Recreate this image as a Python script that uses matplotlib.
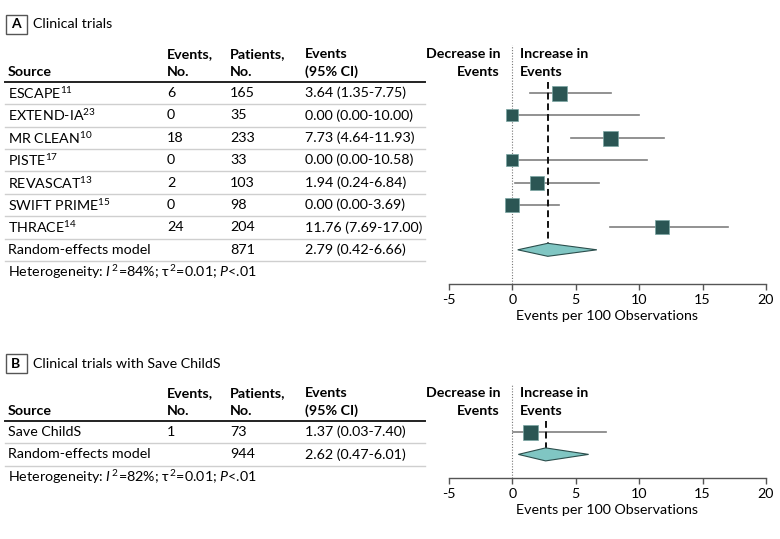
"""
Forest plot: events per 100 observations, clinical trials (A) and with Save ChildS (B)
"""

import matplotlib

matplotlib.use("Agg")
import matplotlib.pyplot as plt
from matplotlib.patches import Rectangle, Polygon
from matplotlib.lines import Line2D

plt.rcParams["font.family"] = ["Lato", "DejaVu Sans"]
plt.rcParams["mathtext.fontset"] = "custom"
plt.rcParams["mathtext.rm"] = "Lato"
plt.rcParams["mathtext.it"] = "Lato:italic"
plt.rcParams["mathtext.bf"] = "Lato:bold"
plt.rcParams["axes.unicode_minus"] = False

# Panel A data
sources_a = ["ESCAPE", "EXTEND-IA", "MR CLEAN", "PISTE", "REVASCAT", "SWIFT PRIME", "THRACE"]
refs_a = ["11", "23", "10", "17", "13", "15", "14"]
events_a = [6, 0, 18, 0, 2, 0, 24]
patients_a = [165, 35, 233, 33, 103, 98, 204]
est_a = [3.64, 0.00, 7.73, 0.00, 1.94, 0.00, 11.76]
lo_a = [1.35, 0.00, 4.64, 0.00, 0.24, 0.00, 7.69]
hi_a = [7.75, 10.00, 11.93, 10.58, 6.84, 3.69, 17.00]
box_a = [15, 12.5, 15, 12, 14.5, 14, 14.5]  # square size (px), study weight
pooled_a = (871, 2.79, 0.42, 6.66)
het_a = ("84%", "0.01", ".01")

# Panel B data
sources_b = ["Save ChildS"]
refs_b = [""]
events_b = [1]
patients_b = [73]
est_b = [1.37]
lo_b = [0.03]
hi_b = [7.40]
box_b = [15]
pooled_b = (944, 2.62, 0.47, 6.01)
het_b = ("82%", "0.01", ".01")

xticks = [-5, 0, 5, 10, 15, 20]

W, H = 780, 539
fig = plt.figure(figsize=(W / 100, H / 100), dpi=100)

SQ = "#2b5654"
DIA = "#80c6c3"
FS = 10.3


def fx(px):
    return px / W


def fy(py):
    return 1 - py / H


def hline(y, color, lw):
    fig.add_artist(Line2D([fx(5), fx(425)], [fy(y), fy(y)], color=color, lw=lw, transform=fig.transFigure))


def panel(letter, title, top, sources, refs, events, patients, est, lo, hi, box, pooled, het):
    row_h = 22.4
    # panel title box
    fig.add_artist(Rectangle((fx(5.5), fy(top + 19)), fx(21), 19 / H, fill=False, ec="#555555", lw=1.0,
                             transform=fig.transFigure))
    fig.text(fx(16), fy(top + 9.5), letter, ha="center", va="center", fontsize=10, fontweight="bold")
    fig.text(fx(33), fy(top + 9.5), title, ha="left", va="center", fontsize=10.3)

    # header
    h1, h2 = top + 39, top + 57
    fig.text(fx(8), fy(h2), "Source", ha="left", va="center", fontsize=FS, fontweight="bold")
    for x, a, b in [(167, "Events,", "No."), (230, "Patients,", "No."), (305, "Events", "(95% CI)")]:
        fig.text(fx(x), fy(h1), a, ha="left", va="center", fontsize=FS, fontweight="bold")
        fig.text(fx(x), fy(h2), b, ha="left", va="center", fontsize=FS, fontweight="bold")
    fig.text(fx(500), fy(h1), "Decrease in", ha="right", va="center", fontsize=FS, fontweight="bold")
    fig.text(fx(500), fy(h2), "Events", ha="right", va="center", fontsize=FS, fontweight="bold")
    fig.text(fx(520), fy(h1), "Increase in", ha="left", va="center", fontsize=FS, fontweight="bold")
    fig.text(fx(520), fy(h2), "Events", ha="left", va="center", fontsize=FS, fontweight="bold")

    line_y = top + 67
    hline(line_y, "#222222", 1.4)
    row0 = line_y + 11

    n = len(sources)
    for i in range(n):
        y = row0 + i * row_h
        name = sources[i] + (r"$^{%s}$" % refs[i] if refs[i] else "")
        fig.text(fx(8), fy(y), name, ha="left", va="center", fontsize=FS)
        fig.text(fx(167), fy(y), str(events[i]), ha="left", va="center", fontsize=FS)
        fig.text(fx(230), fy(y), str(patients[i]), ha="left", va="center", fontsize=FS)
        fig.text(fx(305), fy(y), f"{est[i]:.2f} ({lo[i]:.2f}-{hi[i]:.2f})", ha="left", va="center", fontsize=FS)
        hline(y + 11.2, "#cfcfcf", 1.0)
    y = row0 + n * row_h
    fig.text(fx(8), fy(y), "Random-effects model", ha="left", va="center", fontsize=FS)
    fig.text(fx(230), fy(y), str(pooled[0]), ha="left", va="center", fontsize=FS)
    fig.text(fx(305), fy(y), f"{pooled[1]:.2f} ({pooled[2]:.2f}-{pooled[3]:.2f})", ha="left", va="center",
             fontsize=FS)
    hline(y + 11.2, "#cfcfcf", 1.0)
    y += row_h
    fig.text(fx(8), fy(y),
             r"Heterogeneity: $\mathit{I}^{\,2}$=%s; τ$^{\,2}$=%s; $\mathit{P}$<%s" % het,
             ha="left", va="center", fontsize=FS)

    # forest axes
    ax_top = top + 30
    if n > 2:
        ax_bot = top + 269
    else:
        ax_bot = top + 124
    ax = fig.add_axes([fx(449), fy(ax_bot), (766 - 449) / W, (ax_bot - ax_top) / H])
    ax.set_xlim(-5, 20)
    ax.set_ylim(ax_bot, ax_top)
    for s in ["top", "right", "left"]:
        ax.spines[s].set_visible(False)
    ax.spines["bottom"].set_color("#555555")
    ax.spines["bottom"].set_linewidth(1.0)
    ax.set_yticks([])
    ax.set_xticks(xticks)
    ax.tick_params(axis="x", direction="out", length=4, width=1.0, color="#555555", labelsize=FS, pad=3)
    ax.set_xlabel("Events per 100 Observations", fontsize=FS, labelpad=3)
    ax.patch.set_alpha(0)

    ax.axvline(0, ymin=0, ymax=1, color="#777777", lw=0.8, ls=(0, (1, 1.5)))
    ypool = row0 + n * row_h
    ax.plot([pooled[1], pooled[1]], [line_y, ypool], color="#111111", lw=1.4, ls=(0, (3.5, 2)), zorder=2)

    for i in range(n):
        y = row0 + i * row_h
        ax.plot([lo[i], hi[i]], [y, y], color="#7f7f7f", lw=1.2, zorder=1)
        ax.plot(est[i], y, marker="s", ms=box[i] * 0.72, mfc=SQ, mec="#7aa5a2", mew=0.5, ls="none", zorder=3)

    dh = 6.5
    ax.add_patch(Polygon([(pooled[2], ypool), (pooled[1], ypool - dh), (pooled[3], ypool), (pooled[1], ypool + dh)],
                         closed=True, fc=DIA, ec="#2b4e4c", lw=0.8, zorder=3))


panel("A", "Clinical trials", 15, sources_a, refs_a, events_a, patients_a, est_a, lo_a, hi_a, box_a, pooled_a,
      het_a)
panel("B", "Clinical trials with Save ChildS", 354, sources_b, refs_b, events_b, patients_b, est_b, lo_b, hi_b,
      box_b, pooled_b, het_b)

fig.savefig("out.png", dpi=100)
